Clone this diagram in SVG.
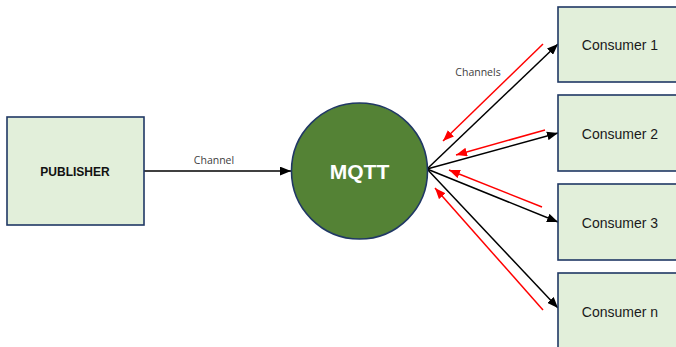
<svg xmlns="http://www.w3.org/2000/svg" width="676" height="347" viewBox="0 0 676 347">
  <style>
    .box { fill: #E2EFDA; stroke: #203864; stroke-width: 1.6; }
    .hub { fill: #548235; stroke: #203864; stroke-width: 1.6; }
    .sub { stroke: #000; stroke-width: 1.5; fill: none; marker-end: url(#arrBlack); }
    .ret { stroke: #FF0000; stroke-width: 1.5; fill: none; marker-end: url(#arrRed); }
    .lbl { font-family: "Open Sans", "Liberation Sans", sans-serif; font-size: 10.5px; fill: #404040; }
    .name { font-family: "Liberation Sans", Arial, sans-serif; font-size: 14px; fill: #1a1a1a; }
  </style>
  <defs>
    <marker id="arrBlack" viewBox="0 0 10 8" refX="10" refY="4" markerWidth="11" markerHeight="9" markerUnits="userSpaceOnUse" orient="auto">
      <path d="M0,0 L10,4 L0,8 Z" fill="#000"/>
    </marker>
    <marker id="arrRed" viewBox="0 0 10 8" refX="10" refY="4" markerWidth="11" markerHeight="9" markerUnits="userSpaceOnUse" orient="auto">
      <path d="M0,0 L10,4 L0,8 Z" fill="#FF0000"/>
    </marker>
  </defs>

  <rect width="676" height="347" fill="#fff"/>

  <!-- connectors -->
  <g id="connectors">
    <line class="sub" x1="144" y1="171" x2="291" y2="171"/>
    <line class="sub" x1="427" y1="169" x2="558" y2="44"/>
    <line class="sub" x1="427" y1="169" x2="558" y2="133"/>
    <line class="sub" x1="427" y1="169" x2="558" y2="222"/>
    <line class="sub" x1="427" y1="169" x2="558" y2="308"/>
    <line class="ret" x1="543" y1="44" x2="443" y2="141"/>
    <line class="ret" x1="545" y1="130" x2="456" y2="155"/>
    <line class="ret" x1="542" y1="207" x2="449" y2="170"/>
    <line class="ret" x1="543" y1="310" x2="435" y2="188"/>
    <text class="lbl" x="214" y="164" text-anchor="middle">Channel</text>
    <text class="lbl" x="478" y="76" text-anchor="middle">Channels</text>
  </g>

  <!-- publisher -->
  <g id="publisher">
    <rect class="box" x="7" y="117" width="137" height="108"/>
    <text x="75" y="175.5" text-anchor="middle" font-family="'Liberation Sans', Arial, sans-serif" font-size="12" font-weight="bold" fill="#111">PUBLISHER</text>
  </g>

  <!-- broker -->
  <g id="mqtt">
    <circle class="hub" cx="359.5" cy="171" r="68"/>
    <text x="359.5" y="179" text-anchor="middle" font-family="'Liberation Sans', Arial, sans-serif" font-size="21" font-weight="bold" fill="#fff">MQTT</text>
  </g>

  <!-- consumers -->
  <g id="consumer1">
    <rect class="box" x="558" y="7" width="124" height="75"/>
    <text class="name" x="620" y="49.5" text-anchor="middle">Consumer 1</text>
  </g>
  <g id="consumer2">
    <rect class="box" x="558" y="95" width="124" height="76"/>
    <text class="name" x="620" y="138.5" text-anchor="middle">Consumer 2</text>
  </g>
  <g id="consumer3">
    <rect class="box" x="558" y="184" width="124" height="76"/>
    <text class="name" x="620" y="227.5" text-anchor="middle">Consumer 3</text>
  </g>
  <g id="consumern">
    <rect class="box" x="558" y="273" width="124" height="80"/>
    <text class="name" x="620" y="316.5" text-anchor="middle">Consumer n</text>
  </g>
</svg>
